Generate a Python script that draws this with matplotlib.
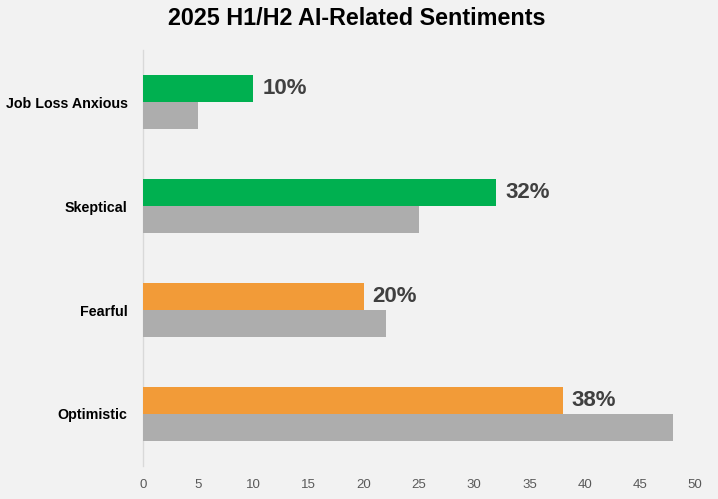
import numpy as np
from matplotlib import pyplot as plt

categories = ["Job Loss Anxious", "Skeptical", "Fearful", "Optimistic"]
h2_values = [10, 32, 20, 38]
h1_values = [5, 25, 22, 48]
h2_colors = ["#00B050", "#00B050", "#F29B38", "#F29B38"]
xticks = [0, 5, 10, 15, 20, 25, 30, 35, 40, 45, 50]

plt.rcParams['font.family'] = ['Liberation Sans', 'DejaVu Sans']

fig = plt.figure(figsize=(7.18, 4.99), dpi=100)
fig.patch.set_facecolor('#F2F2F2')
ax = fig.add_axes([143/718, 1 - 466/499, (695 - 143)/718, (466 - 50)/499])
ax.set_facecolor('#F2F2F2')

y = np.arange(len(categories))
h = 0.26
ax.barh(y - h/2, h2_values, height=h, color=h2_colors, zorder=3)
ax.barh(y + h/2, h1_values, height=h, color='#ADADAD', zorder=3)

for yi, v in zip(y, h2_values):
    ax.text(v + 0.8, yi - h/2, f"{v}%", va='center', ha='left',
            fontsize=16, fontweight='bold', color='#404040')

ax.set_xlim(0, 50)
ax.set_ylim(3.5, -0.5)
ax.set_xticks(xticks)
ax.set_yticks(y)
ax.set_yticklabels(categories, fontsize=10.3, fontweight='bold', color='black')
ax.tick_params(axis='y', length=0, pad=11)
ax.tick_params(axis='x', length=0, pad=9, labelsize=9.5, colors='#595959')

for s in ['top', 'right', 'bottom']:
    ax.spines[s].set_visible(False)
ax.spines['left'].set_color('#D9D9D9')
ax.spines['left'].set_linewidth(1)

fig.suptitle("2025 H1/H2 AI-Related Sentiments", x=0.497, y=0.985,
             fontsize=16.8, fontweight='bold', color='black')

fig.savefig("out.png", dpi=100, facecolor=fig.get_facecolor())
